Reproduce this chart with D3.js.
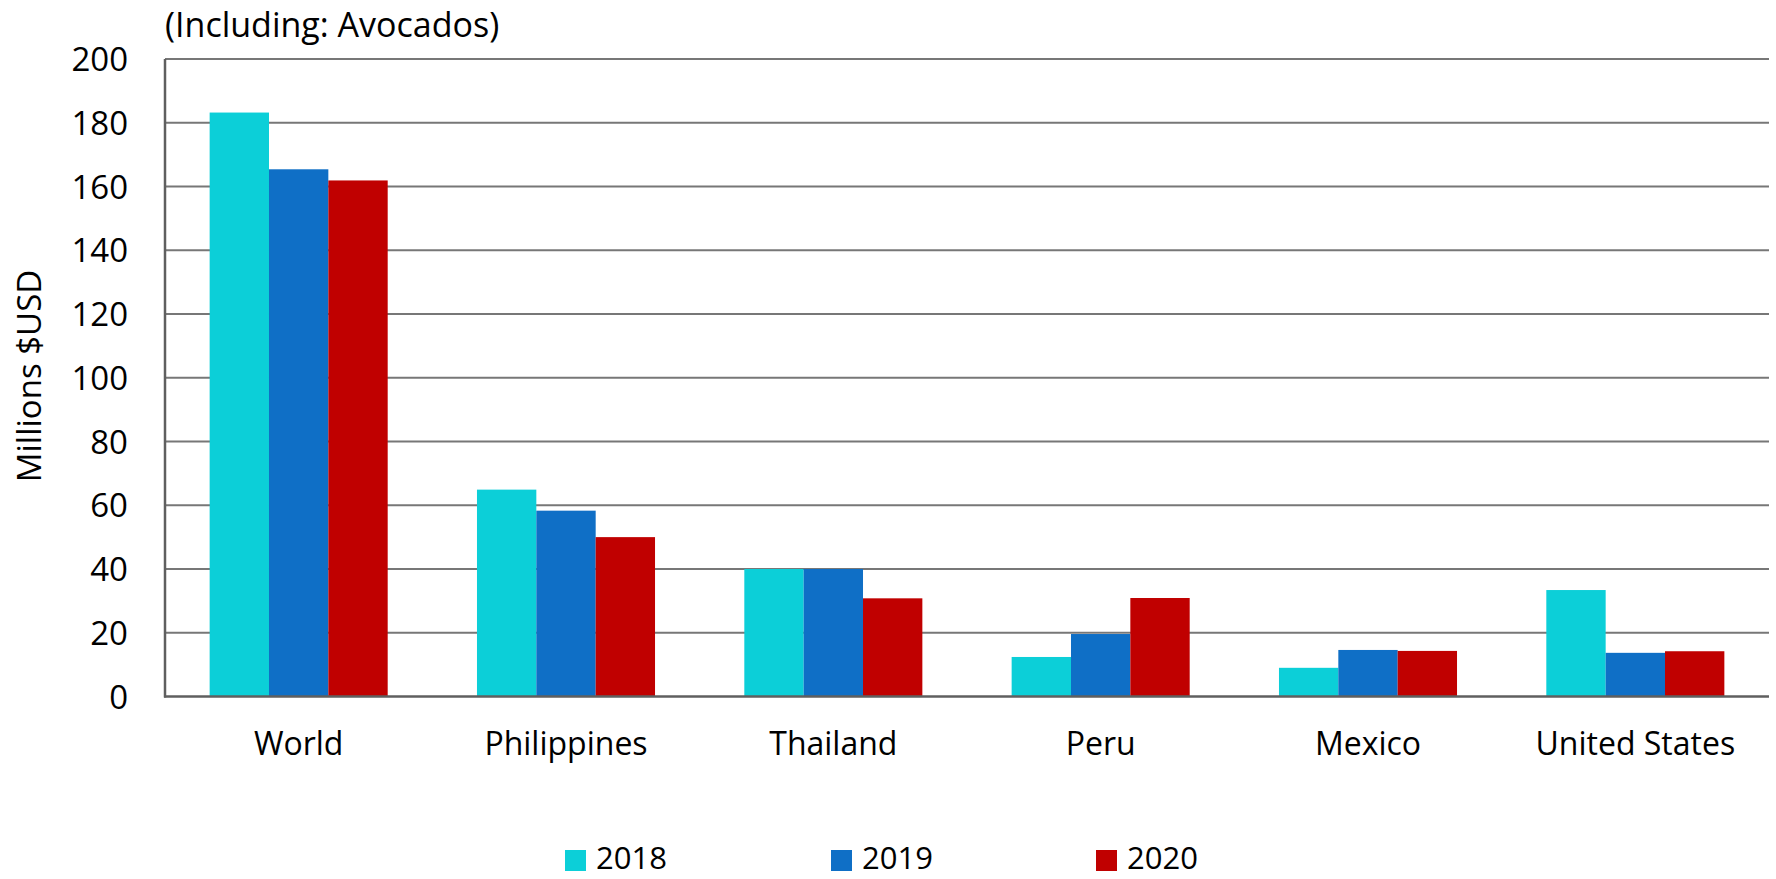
<!DOCTYPE html>
<html><head><meta charset="utf-8">
<script src="https://cdn.jsdelivr.net/npm/d3@7"></script>
<style>
html,body{margin:0;padding:0;background:#fff;}
svg text{font-family:"Open Sans",sans-serif;fill:#000;}
</style></head>
<body><svg id="c" width="1776" height="879"></svg>
<script>
const categories = ["World","Philippines","Thailand","Peru","Mexico","United States"];
const seriesNames = ["2018","2019","2020"];
const values2018 = [183.2, 64.9, 40.0, 12.4, 9.0, 33.4];
const values2019 = [165.4, 58.3, 40.0, 19.6, 14.6, 13.7];
const values2020 = [161.9, 50.0, 30.8, 30.9, 14.3, 14.2];
const colors = ["#0CCFD8","#0F6FC6","#C00000"];
const yTicks = [0,20,40,60,80,100,120,140,160,180,200];
const titleText = "(Including: Avocados)";
const yLabel = "Millions $USD";

const seriesVals = [values2018, values2019, values2020];
const svg = d3.select("#c");
const m = {left:165, right:1769, top:59, bottom:696.5};

const x = d3.scaleBand().domain(categories).range([m.left, m.right]).paddingInner(0.334).paddingOuter(0.167);
const xs = d3.scaleBand().domain(seriesNames).range([0, x.bandwidth()]);
const y = d3.scaleLinear().domain([0,200]).range([m.bottom, m.top]);

// gridlines
svg.append("g").selectAll("line").data(yTicks.filter(d=>d>0)).join("line")
  .attr("x1", m.left).attr("x2", m.right)
  .attr("y1", d=>y(d)).attr("y2", d=>y(d))
  .attr("stroke","#777").attr("stroke-width",2);

// bars
const g = svg.append("g");
categories.forEach((c,i)=>{
  seriesNames.forEach((s,j)=>{
    g.append("rect")
      .attr("x", x(c)+xs(s)).attr("width", xs.bandwidth())
      .attr("y", y(seriesVals[j][i])).attr("height", y(0)-y(seriesVals[j][i]))
      .attr("fill", colors[j]);
  });
});

// axes lines
svg.append("line").attr("x1",m.left).attr("x2",m.left).attr("y1",m.top).attr("y2",m.bottom+1)
  .attr("stroke","#5f5f5f").attr("stroke-width",2.5);
svg.append("line").attr("x1",m.left-1).attr("x2",m.right).attr("y1",m.bottom).attr("y2",m.bottom)
  .attr("stroke","#5f5f5f").attr("stroke-width",2.5);

// y tick labels
const ya = d3.axisLeft(y).tickValues(yTicks).tickSize(0).tickPadding(0);
const yg = svg.append("g").attr("transform",`translate(${m.left-37},0)`).call(ya);
yg.select(".domain").remove();
yg.selectAll("text").attr("font-size",33).attr("font-family","'Open Sans',sans-serif").attr("fill","#000").attr("dy","0.35em");

// x labels
const xa = d3.axisBottom(x).tickSize(0).tickPadding(0);
const xg = svg.append("g").attr("transform",`translate(0,${m.bottom})`).call(xa);
xg.select(".domain").remove();
xg.selectAll("text").attr("font-size",32).attr("font-family","'Open Sans',sans-serif").attr("fill","#000").attr("dy",null).attr("y",58);

// title
svg.append("text").attr("x",165).attr("y",37).attr("font-size",34).text(titleText);

// y label
svg.append("text").attr("transform","translate(41,376) rotate(-90)").attr("text-anchor","middle")
  .attr("font-size",33).text(yLabel);

// legend
const lx = [565, 831, 1096];
seriesNames.forEach((s,j)=>{
  svg.append("rect").attr("x",lx[j]).attr("y",850).attr("width",21).attr("height",21).attr("fill",colors[j]);
  svg.append("text").attr("x",lx[j]+31).attr("y",869).attr("font-size",31).text(s);
});
</script></body></html>
